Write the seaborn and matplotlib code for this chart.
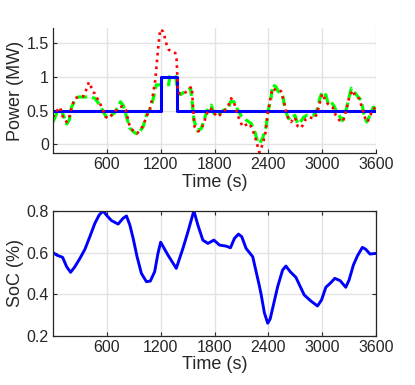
import matplotlib
matplotlib.use('Agg')
import matplotlib.pyplot as plt
import seaborn as sns

# power traces (s, MW)
green_t = [0, 41, 78, 107, 152, 181, 207, 244, 281, 337, 411, 467, 522, 559, 596, 633, 689, 726, 752, 781,
           819, 856, 911, 948, 1004, 1041, 1078, 1115, 1152, 1200, 1290, 1300, 1370, 1393, 1430, 1467, 1504,
           1533, 1548, 1570, 1607, 1652, 1689, 1726, 1763, 1800, 1844, 1874, 1911, 1948, 1978, 2015, 2059,
           2104, 2152, 2207, 2244, 2281, 2300, 2337, 2374, 2400, 2430, 2448, 2485, 2511, 2559, 2585, 2615,
           2644, 2696, 2726, 2744, 2793, 2830, 2911, 2948, 2978, 3004, 3041, 3067, 3096, 3126, 3170, 3226,
           3263, 3300, 3326, 3356, 3400, 3437, 3467, 3496, 3533, 3570, 3600]
green_v = [0.33, 0.46, 0.52, 0.46, 0.30, 0.36, 0.55, 0.65, 0.70, 0.70, 0.70, 0.68, 0.58, 0.48, 0.40, 0.41,
           0.47, 0.55, 0.63, 0.58, 0.41, 0.24, 0.17, 0.15, 0.26, 0.43, 0.51, 0.66, 0.88, 0.88, 0.88, 1.0,
           1.0, 0.75, 0.74, 0.78, 0.80, 0.83, 0.66, 0.36, 0.21, 0.23, 0.38, 0.53, 0.58, 0.43, 0.43, 0.48,
           0.51, 0.51, 0.63, 0.63, 0.51, 0.41, 0.36, 0.31, 0.21, 0.04, 0.01, 0.09, 0.26, 0.51, 0.68, 0.88,
           0.85, 0.78, 0.73, 0.53, 0.41, 0.36, 0.43, 0.31, 0.30, 0.40, 0.43, 0.43, 0.53, 0.70, 0.78, 0.73,
           0.60, 0.63, 0.58, 0.46, 0.35, 0.48, 0.70, 0.83, 0.78, 0.70, 0.65, 0.43, 0.33, 0.43, 0.55, 0.52]

red_t = [0, 33, 78, 115, 152, 189, 207, 244, 300, 337, 363, 381, 400, 419, 441, 467, 493, 522, 559, 585,
         615, 652, 707, 737, 774, 811, 856, 893, 937, 1004, 1041, 1078, 1110, 1140, 1170, 1195, 1226, 1244,
         1263, 1289, 1326, 1363, 1378, 1393, 1422, 1459, 1496, 1522, 1548, 1559, 1578, 1615, 1644, 1681,
         1707, 1744, 1781, 1819, 1856, 1893, 1930, 1956, 1985, 2015, 2041, 2078, 2115, 2152, 2189, 2226,
         2263, 2281, 2300, 2337, 2367, 2385, 2400, 2430, 2448, 2504, 2541, 2570, 2596, 2622, 2652, 2696,
         2726, 2763, 2793, 2819, 2856, 2911, 2941, 2967, 2985, 3004, 3041, 3078, 3115, 3152, 3189, 3226,
         3252, 3281, 3300, 3337, 3374, 3411, 3448, 3485, 3504, 3533, 3559, 3600]
red_v = [0.40, 0.48, 0.55, 0.38, 0.33, 0.43, 0.55, 0.68, 0.71, 0.71, 0.78, 0.85, 0.92, 0.87, 0.78, 0.75,
         0.68, 0.61, 0.50, 0.41, 0.38, 0.43, 0.51, 0.55, 0.56, 0.51, 0.26, 0.20, 0.16, 0.27, 0.41, 0.51,
         0.70, 0.95, 1.40, 1.70, 1.67, 1.59, 1.49, 1.40, 1.37, 1.35, 1.25, 0.78, 0.74, 0.75, 0.79, 0.83,
         0.85, 0.58, 0.26, 0.19, 0.21, 0.31, 0.43, 0.53, 0.51, 0.41, 0.43, 0.48, 0.52, 0.58, 0.68, 0.63,
         0.51, 0.36, 0.26, 0.29, 0.31, 0.21, 0.06, -0.03, -0.12, 0.00, 0.16, 0.36, 0.51, 0.73, 0.83, 0.78,
         0.79, 0.65, 0.50, 0.38, 0.33, 0.40, 0.27, 0.24, 0.30, 0.38, 0.40, 0.38, 0.45, 0.58, 0.68, 0.75,
         0.63, 0.58, 0.55, 0.43, 0.36, 0.33, 0.41, 0.58, 0.69, 0.80, 0.70, 0.68, 0.53, 0.36, 0.33, 0.41,
         0.51, 0.55]

# battery set-point (step)
blue_t = [0, 1200, 1380, 3600]
blue_v = [0.5, 1.0, 0.5, 0.5]

# state of charge
soc_t = [0, 41, 107, 152, 196, 244, 300, 356, 411, 467, 515, 559, 604, 652, 726, 781, 819, 856, 893, 937,
         985, 1041, 1085, 1133, 1170, 1200, 1281, 1374, 1448, 1504, 1570, 1615, 1670, 1726, 1793, 1856,
         1930, 1978, 2022, 2067, 2104, 2152, 2226, 2263, 2300, 2319, 2356, 2393, 2420, 2448, 2504, 2559,
         2596, 2644, 2707, 2756, 2800, 2874, 2948, 2993, 3041, 3096, 3141, 3200, 3263, 3300, 3348, 3393,
         3448, 3485, 3533, 3600]
soc_v = [0.60, 0.588, 0.577, 0.532, 0.505, 0.532, 0.572, 0.616, 0.677, 0.741, 0.781, 0.800, 0.776, 0.754,
         0.737, 0.765, 0.776, 0.733, 0.669, 0.580, 0.500, 0.460, 0.463, 0.508, 0.596, 0.650, 0.588, 0.524,
         0.620, 0.700, 0.801, 0.732, 0.660, 0.644, 0.660, 0.636, 0.631, 0.623, 0.668, 0.689, 0.676, 0.620,
         0.580, 0.510, 0.440, 0.400, 0.310, 0.260, 0.280, 0.332, 0.436, 0.516, 0.535, 0.508, 0.481, 0.436,
         0.396, 0.367, 0.343, 0.372, 0.433, 0.455, 0.476, 0.465, 0.433, 0.468, 0.540, 0.584, 0.625, 0.616,
         0.593, 0.596]

x_ticks = [600, 1200, 1800, 2400, 3000, 3600]

sns.set_style('white')
plt.rcParams['font.family'] = ['Liberation Sans', 'DejaVu Sans']
dark = '#262626'
grid_c = '#e3e3e3'

W, H = 415, 385
fig = plt.figure(figsize=(4.15, 3.85), dpi=100)
ax1 = fig.add_axes([53 / W, 1 - 153.3 / H, 323 / W, 125 / H])
ax2 = fig.add_axes([53 / W, 1 - 335.7 / H, 323 / W, 124.7 / H])

# top: power
sns.lineplot(x=green_t, y=green_v, ax=ax1, color=(0, 1, 0), lw=2.3, linestyle=(0, (3.2, 1.5)))
sns.lineplot(x=blue_t, y=blue_v, ax=ax1, color=(0, 0, 1), lw=2.2, drawstyle='steps-post')
sns.lineplot(x=red_t, y=red_v, ax=ax1, color=(1, 0, 0), lw=1.9, linestyle=(0, (1, 1.6)))
ax1.set_xlim(0, 3600)
ax1.set_ylim(-0.133, 1.716)
ax1.set_yticks([0, 0.5, 1, 1.5])
ax1.set_yticklabels(['0', '0.5', '1', '1.5'])
ax1.set_ylabel('Power (MW)')
ax1.spines['top'].set_visible(False)
ax1.spines['right'].set_visible(False)
ax1.tick_params(bottom=True, left=True)

# bottom: SoC
sns.lineplot(x=soc_t, y=soc_v, ax=ax2, color=(0, 0, 1), lw=2.1)
ax2.set_xlim(0, 3600)
ax2.set_ylim(0.2, 0.8)
ax2.set_yticks([0.2, 0.4, 0.6, 0.8])
ax2.set_yticklabels(['0.2', '0.4', '0.6', '0.8'])
ax2.set_ylabel('SoC (%)')
ax2.tick_params(bottom=True, left=True, top=True, right=True)

for ax in (ax1, ax2):
    ax.set_xticks(x_ticks)
    ax.set_xticklabels([str(t) for t in x_ticks])
    ax.set_xlabel('Time (s)', fontsize=13, color=dark, labelpad=1)
    ax.yaxis.label.set_fontsize(13)
    ax.yaxis.label.set_color(dark)
    ax.yaxis.labelpad = 2
    ax.grid(True, color=grid_c, lw=1.0)
    ax.set_axisbelow(True)
    ax.tick_params(direction='in', length=3, width=0.8, color=dark, labelcolor=dark,
                   labelsize=11.5, pad=3)
    for s in ax.spines.values():
        s.set_color(dark)
        s.set_linewidth(0.9)

fig.savefig('out.png', dpi=100)
